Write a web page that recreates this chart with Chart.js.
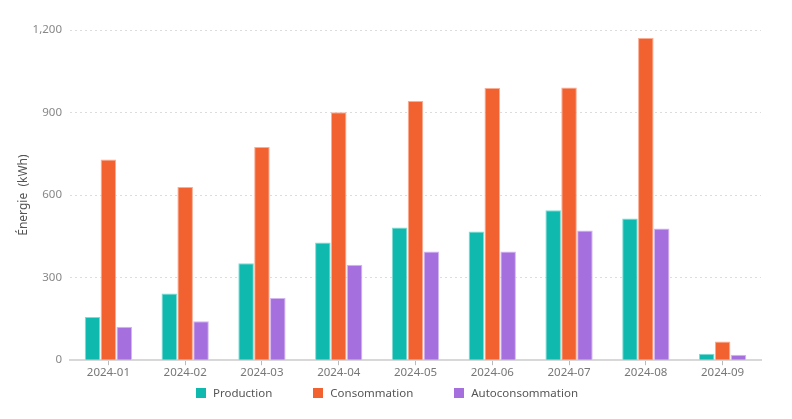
<!DOCTYPE html>
<html>
<head>
<meta charset="utf-8">
<script src="https://cdn.jsdelivr.net/npm/chart.js@4/dist/chart.umd.min.js"></script>
<style>
  html, body { margin: 0; padding: 0; background: #fff; }
  #wrap { width: 792px; height: 419px; position: relative; }
  #legend {
    position: absolute; left: 0; right: 0; top: 385px;
    display: flex; justify-content: center; gap: 41px;
    font: 11.5px 'Noto Sans', 'Open Sans', sans-serif; color: #555;
    padding-right: 18px;
  }
  #legend span { display: flex; align-items: center; line-height: 16px; }
  #legend i { display: inline-block; width: 10px; height: 10px; margin-right: 7px; }
</style>
</head>
<body>
<div id="wrap"><canvas id="energyChart"></canvas><div id="legend"></div></div>
<script>
  /* monthly energy balance, kWh */
  var months = ["2024-01", "2024-02", "2024-03", "2024-04", "2024-05", "2024-06", "2024-07", "2024-08", "2024-09"];
  var production = [157, 242, 352, 428, 482, 468, 545, 515, 23];
  var consommation = [729, 629, 775, 901, 942, 989, 991, 1171, 68];
  var autoconsommation = [122, 142, 226, 347, 395, 395, 471, 479, 20];
  var yTicks = [0, 300, 600, 900, 1200];

  var FONT = "'Noto Sans', 'Open Sans', sans-serif";

  function series(label, data, fill, edge) {
    return {
      label: label,
      data: data,
      backgroundColor: fill,
      borderColor: edge,
      borderWidth: 1,
      borderSkipped: "bottom",
      categoryPercentage: 0.62,
      barPercentage: 0.98
    };
  }

  var chart = new Chart(document.getElementById("energyChart").getContext("2d"), {
    type: "bar",
    data: {
      labels: months,
      datasets: [
        series("Production", production, "#10b9ae", "#7fdcd5"),
        series("Consommation", consommation, "#f26231", "#f9ad93"),
        series("Autoconsommation", autoconsommation, "#a66fde", "#d2b6f0")
      ]
    },
    options: {
      responsive: true,
      maintainAspectRatio: false,
      animation: false,
      layout: { padding: { top: 30, right: 31, left: 16, bottom: 38 } },
      plugins: {
        tooltip: { enabled: false },
        legend: { display: false }
      },
      scales: {
        x: {
          grid: {
            offset: false,
            drawOnChartArea: false,
            color: "#bbb",
            tickLength: 5
          },
          border: { color: "#d8d8d8", width: 2 },
          ticks: { color: "#777", font: { family: FONT, size: 11.5 }, padding: 1 }
        },
        y: {
          min: 0,
          max: 1200,
          afterBuildTicks: function (axis) {
            axis.ticks = yTicks.map(function (v) { return { value: v }; });
          },
          afterFit: function (axis) { axis.width = 54; },
          grid: { color: "#dcdcdc", lineWidth: 1, drawTicks: false },
          border: { display: false, dash: [2, 3] },
          ticks: {
            color: "#888",
            padding: 8,
            font: { family: FONT, size: 11.5 },
            callback: function (v) { return v.toLocaleString("en-US"); }
          },
          title: {
            display: true,
            text: "Énergie  (kWh)",
            color: "#555",
            font: { family: FONT, size: 12 },
            padding: { top: 0, bottom: 0 }
          }
        }
      }
    }
  });

  /* html legend, ECharts-like spacing */
  var legend = document.getElementById("legend");
  chart.data.datasets.forEach(function (d) {
    var item = document.createElement("span");
    var box = document.createElement("i");
    box.style.background = d.backgroundColor;
    item.appendChild(box);
    item.appendChild(document.createTextNode(d.label));
    legend.appendChild(item);
  });
</script>
</body>
</html>
